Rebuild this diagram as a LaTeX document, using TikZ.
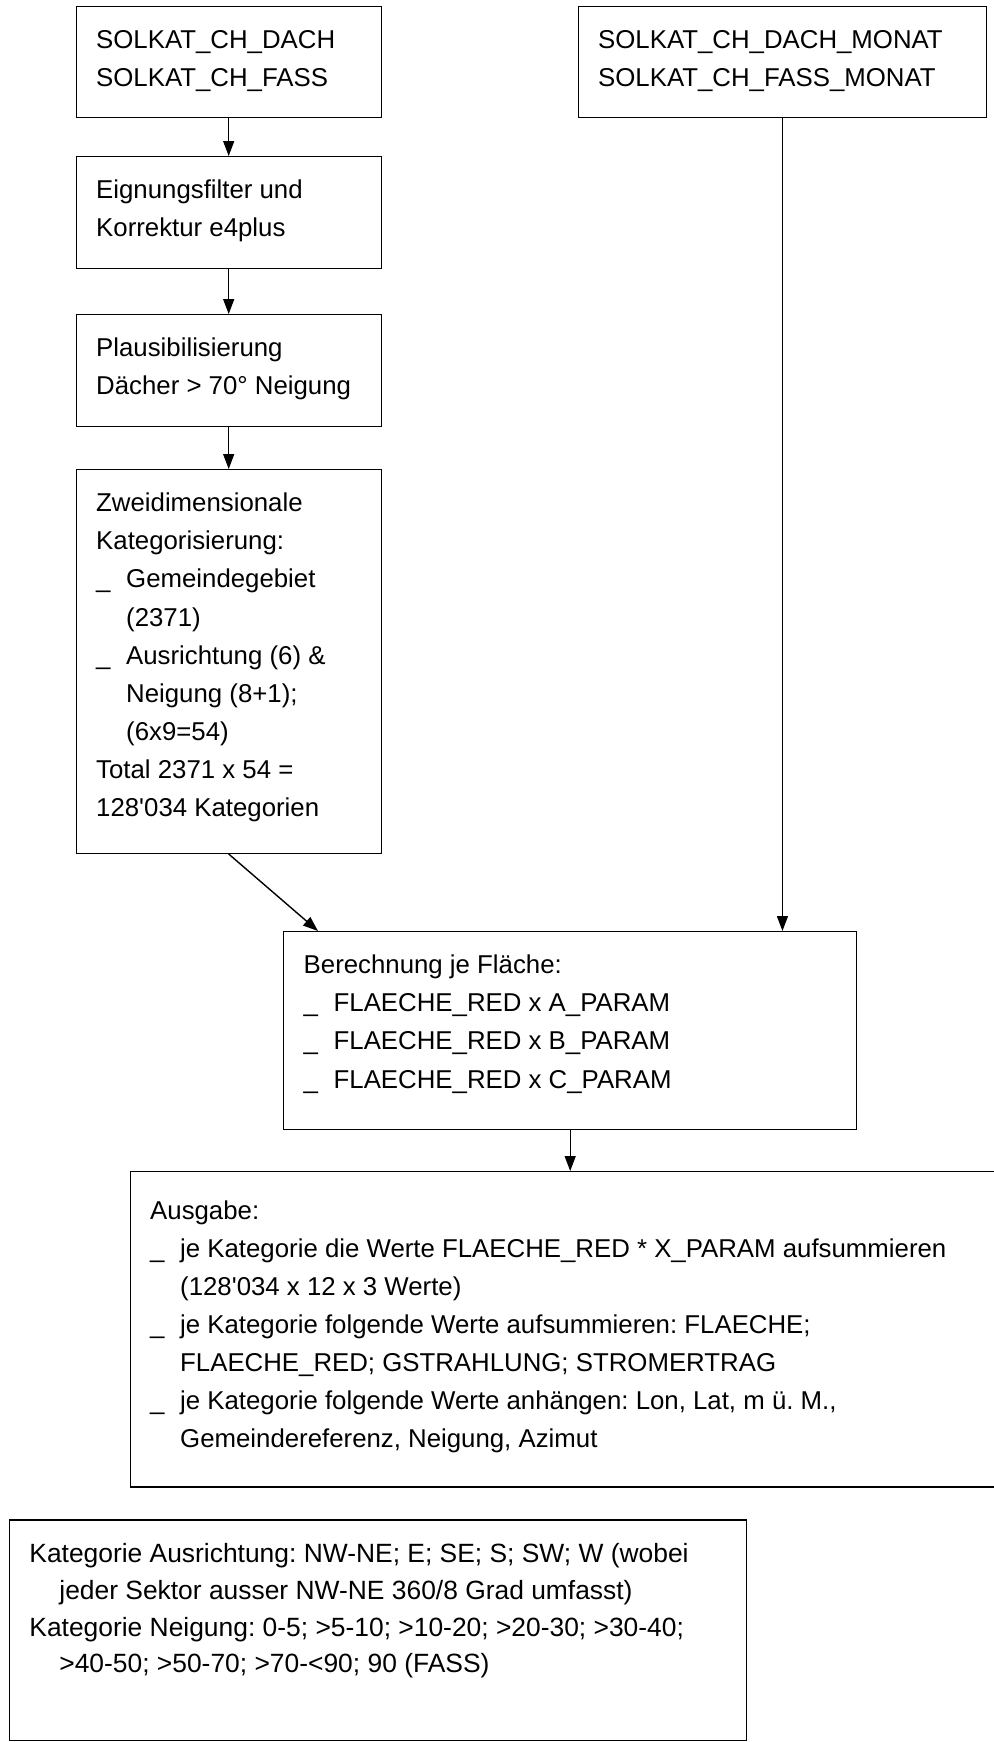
\documentclass[tikz,border=0pt]{standalone}
\usepackage{fontspec}
\setmainfont{Liberation Sans}
\usetikzlibrary{arrows.meta, calc}
\frenchspacing

% box contents: height, width, text
\newcommand{\boxtext}[3]{\begin{minipage}[t][#1][t]{#2}\strut #3\end{minipage}}
\newcommand{\bul}{\makebox[15pt][l]{\_}}
\newcommand{\ind}{\hspace*{15pt}}

\begin{document}
\begin{tikzpicture}[x=0.5pt, y=-0.5pt, line width=0.7pt,
        box/.style={draw, anchor=north west, inner xsep=10pt, inner ysep=7.7pt,
                font=\fontsize{12.9}{19.05}\selectfont},
        flow/.style={-{Triangle[length=7.5pt, width=5.5pt]}}]
        \useasboundingbox (0,0) rectangle (994,1742);

        % left column
        \node[box] (dach) at (75.5,6) {\boxtext{40.1pt}{132.5pt}{SOLKAT\_CH\_DACH\\SOLKAT\_CH\_FASS}};
        \node[box] (eign) at (75.5,156) {\boxtext{40.6pt}{132.5pt}{Eignungsfilter und\\Korrektur e4plus}};
        \node[box] (plaus) at (75.5,314) {\boxtext{40.6pt}{132.5pt}{Plausibilisierung\\Dächer > 70° Neigung}};
        \node[box] (zweid) at (75.5,469) {\boxtext{176.4pt}{132.5pt}{Zweidimensionale\\Kategorisierung:\\
                \bul Gemeindegebiet\\\ind(2371)\\\bul Ausrichtung (6) \&\\\ind Neigung (8+1);\\\ind(6x9=54)\\
                Total 2371 x 54 =\\128\textquotesingle 034 Kategorien}};

        % right column
        \node[box] (monat) at (577.5,6) {\boxtext{40.1pt}{184.25pt}{SOLKAT\_CH\_DACH\_MONAT\\SOLKAT\_CH\_FASS\_MONAT}};

        % calculation and output
        \node[box] (calc) at (283,931) {\boxtext{83.6pt}{266.5pt}{Berechnung je Fläche:\\
                \bul FLAECHE\_RED x A\_PARAM\\\bul FLAECHE\_RED x B\_PARAM\\\bul FLAECHE\_RED x C\_PARAM}};
        \node[box, inner ysep=10.5pt] (ausgabe) at (129.5,1171) {\boxtext{136.7pt}{430pt}{Ausgabe:\\
                \bul je Kategorie die Werte FLAECHE\_RED * X\_PARAM aufsummieren\\
                \ind(128\textquotesingle 034 x 12 x 3 Werte)\\
                \bul je Kategorie folgende Werte aufsummieren: FLAECHE;\\
                \ind FLAECHE\_RED; GSTRAHLUNG; STROMERTRAG\\
                \bul je Kategorie folgende Werte anhängen: Lon, Lat, m ü. M.,\\
                \ind Gemeindereferenz, Neigung, Azimut}};

        % categories
        \node[box, font=\fontsize{13.2}{18.35}\selectfont, inner ysep=8.5pt] (kat) at (8.7,1519.3) {\boxtext{93.3pt}{348.4pt}{Kategorie Ausrichtung: NW-NE; E; SE; S; SW; W (wobei\\
                \ind jeder Sektor ausser NW-NE 360/8 Grad umfasst)\\
                Kategorie Neigung: 0-5; >5-10; >10-20; >20-30; >30-40;\\
                \ind >40-50; >50-70; >70-<90; 90 (FASS)}};

        % connectors
        \draw[flow] (dach) -- (eign);
        \draw[flow] (eign) -- (plaus);
        \draw[flow] (plaus) -- (zweid);
        \draw[flow] (zweid.south) -- ($(calc.north west)+(35,0)$);
        \draw[flow] (monat.south) -- (monat.south |- calc.north);
        \draw[flow] (calc.south) -- (calc.south |- ausgabe.north);
\end{tikzpicture}
\end{document}
